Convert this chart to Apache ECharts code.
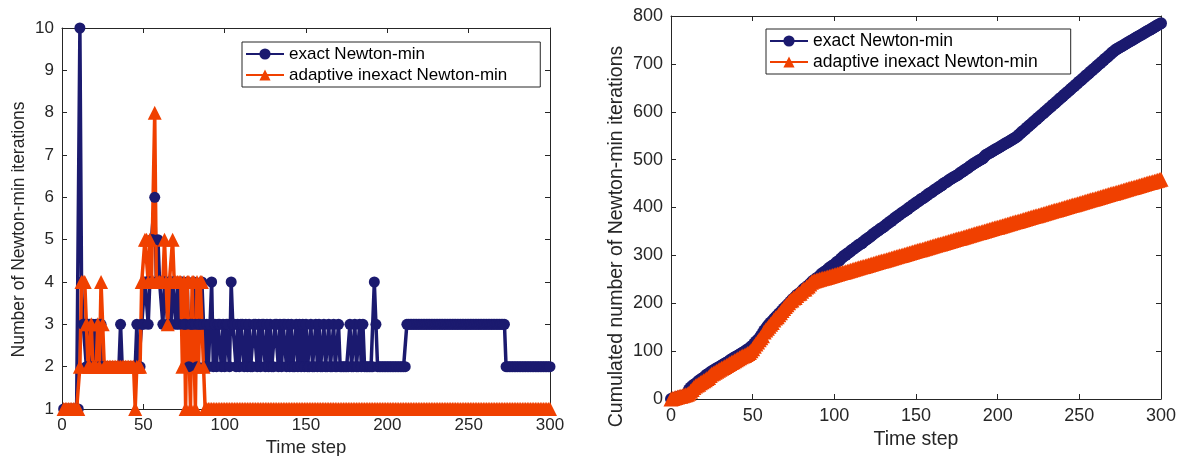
<!DOCTYPE html>
<html><head><meta charset="utf-8">
<script src="https://cdn.jsdelivr.net/npm/echarts@6/dist/echarts.min.js"></script>
<style>html,body{margin:0;padding:0;background:#fff}#c{width:1178px;height:456px}</style>
</head><body><div id="c"></div>
<script>
// Newton-min iterations per time step (time steps 1..300)
const exactIters = [
1,1,1,1,1,1,1,1,1,1,
10,4,3,3,2,3,3,2,3,2,
3,3,2,3,2,2,2,2,2,2,
2,2,2,2,2,3,2,2,2,2,
2,2,2,2,2,3,2,2,3,3,
4,4,3,4,5,5,6,4,5,4,
4,3,4,4,3,4,3,4,4,3,
4,3,4,4,3,3,4,2,3,3,
4,3,2,3,3,4,3,2,3,2,
3,4,2,3,2,3,3,2,3,2,
3,3,2,4,3,3,2,3,2,3,
3,2,3,2,3,2,2,3,3,2,
3,2,3,3,2,3,2,3,2,2,
3,3,2,3,2,3,3,2,3,2,
3,2,2,3,2,3,2,3,2,3,
2,2,3,2,2,3,2,3,2,2,
3,2,2,3,2,2,3,2,2,3,
2,2,2,2,2,2,3,2,2,3,
2,2,3,2,3,2,2,2,2,2,
2,4,3,2,2,2,2,2,2,2,
2,2,2,2,2,2,2,2,2,2,
2,3,3,3,3,3,3,3,3,3,
3,3,3,3,3,3,3,3,3,3,
3,3,3,3,3,3,3,3,3,3,
3,3,3,3,3,3,3,3,3,3,
3,3,3,3,3,3,3,3,3,3,
3,3,3,3,3,3,3,3,3,3,
3,3,2,2,2,2,2,2,2,2,
2,2,2,2,2,2,2,2,2,2,
2,2,2,2,2,2,2,2,2,2
];
const inexactIters = [
1,1,1,1,1,1,1,1,1,1,
2,4,4,4,3,2,2,3,2,2,
2,3,2,4,3,2,2,2,2,2,
2,2,2,2,2,2,2,2,2,2,
2,2,2,2,1,2,2,2,4,4,
5,5,4,5,4,4,8,4,4,4,
4,4,5,4,3,4,4,5,4,4,
4,4,4,2,4,1,4,4,1,4,
4,1,4,2,4,4,2,1,1,1,
1,1,1,1,1,1,1,1,1,1,
1,1,1,1,1,1,1,1,1,1,
1,1,1,1,1,1,1,1,1,1,
1,1,1,1,1,1,1,1,1,1,
1,1,1,1,1,1,1,1,1,1,
1,1,1,1,1,1,1,1,1,1,
1,1,1,1,1,1,1,1,1,1,
1,1,1,1,1,1,1,1,1,1,
1,1,1,1,1,1,1,1,1,1,
1,1,1,1,1,1,1,1,1,1,
1,1,1,1,1,1,1,1,1,1,
1,1,1,1,1,1,1,1,1,1,
1,1,1,1,1,1,1,1,1,1,
1,1,1,1,1,1,1,1,1,1,
1,1,1,1,1,1,1,1,1,1,
1,1,1,1,1,1,1,1,1,1,
1,1,1,1,1,1,1,1,1,1,
1,1,1,1,1,1,1,1,1,1,
1,1,1,1,1,1,1,1,1,1,
1,1,1,1,1,1,1,1,1,1,
1,1,1,1,1,1,1,1,1,1
];
const seriesNames = ['exact Newton-min', 'adaptive inexact Newton-min'];
const xTitle = 'Time step';
const yTitleLeft = 'Number of Newton-min iterations';
const yTitleRight = 'Cumulated number of Newton-min iterations';

const NAVY = '#1b1a6f', ORANGE = '#f04000', AX = '#262626';
const FONT = '"Liberation Sans", Arial, Helvetica, sans-serif';

// per-step pairs (t, value) and cumulative pairs starting at (0, 0)
function perStep(arr) { return arr.map((v, i) => [i + 1, v]); }
function cumulative(arr) {
  const out = [[0, 0]]; let s = 0;
  arr.forEach((v, i) => { s += v; out.push([i + 1, s]); });
  return out;
}

function mainAxis(pos, grid, min, max, interval, fs, name, gap, nameFs, namePad) {
  return {
    type: 'value', gridIndex: grid, position: pos, min, max, interval,
    name: name, nameLocation: 'middle', nameGap: gap,
    nameTextStyle: { fontSize: nameFs, color: AX, fontFamily: FONT, padding: namePad || 0 },
    axisLine: { show: true, onZero: false, lineStyle: { color: AX, width: 1 } },
    axisTick: { show: true, inside: true, length: 5, lineStyle: { color: AX, width: 1 } },
    axisLabel: { show: true, fontSize: fs, color: AX, fontFamily: FONT, margin: 8 },
    splitLine: { show: false }
  };
}
function boxAxis(pos, grid, min, max, interval) {
  return {
    type: 'value', gridIndex: grid, position: pos, min, max, interval,
    axisLine: { show: true, onZero: false, lineStyle: { color: AX, width: 1 } },
    axisTick: { show: true, inside: true, length: 5, lineStyle: { color: AX, width: 1 } },
    axisLabel: { show: false }, splitLine: { show: false }
  };
}
function legend(left, top, fs) {
  return {
    left, top, orient: 'vertical', data: seriesNames,
    itemWidth: 38, itemHeight: 14, itemGap: 3,
    padding: [3, 33, 3, 3],
    borderColor: AX, borderWidth: 1, backgroundColor: '#fff',
    textStyle: { fontSize: fs, color: '#000', fontFamily: FONT, lineHeight: 18 },
    selectedMode: false
  };
}
function lineSeries(name, data, xi, yi, color, symbol, size, width) {
  return {
    name, type: 'line', data, xAxisIndex: xi, yAxisIndex: yi,
    symbol, symbolSize: size, showAllSymbol: true,
    lineStyle: { color, width }, itemStyle: { color },
    emphasis: { disabled: true }, animation: false
  };
}

const chart = echarts.init(document.getElementById('c'), null, { renderer: 'canvas' });
chart.setOption({
  animation: false,
  backgroundColor: '#fff',
  grid: [
    { left: 62, top: 28, width: 488, height: 381, containLabel: false, outerBoundsMode: 'none' },
    { left: 671, top: 16, width: 490, height: 383, containLabel: false, outerBoundsMode: 'none' }
  ],
  xAxis: [
    mainAxis('bottom', 0, 0, 300, 50, 17, xTitle, 29, 18.5),
    boxAxis('top', 0, 0, 300, 50),
    mainAxis('bottom', 1, 0, 300, 50, 18, xTitle, 31, 19.5),
    boxAxis('top', 1, 0, 300, 50)
  ],
  yAxis: [
    mainAxis('left', 0, 1, 10, 1, 17, yTitleLeft, 34, 17.5, [0, 22, 0, 0]),
    boxAxis('right', 0, 1, 10, 1),
    mainAxis('left', 1, 0, 800, 100, 18, yTitleRight, 44, 19.5, [0, 58, 0, 0]),
    boxAxis('right', 1, 0, 800, 100)
  ],
  legend: [legend(242, 42, 17), legend(766, 29, 17.5)],
  series: [
    lineSeries(seriesNames[0], perStep(exactIters), 0, 0, NAVY, 'circle', 11, 3.5),
    lineSeries(seriesNames[1], perStep(inexactIters), 0, 0, ORANGE, 'triangle', 14, 3.5),
    lineSeries(seriesNames[0], cumulative(exactIters), 2, 2, NAVY, 'circle', 12, 4),
    lineSeries(seriesNames[1], cumulative(inexactIters), 2, 2, ORANGE, 'triangle', 15, 4)
  ]
});
</script>
</body></html>
